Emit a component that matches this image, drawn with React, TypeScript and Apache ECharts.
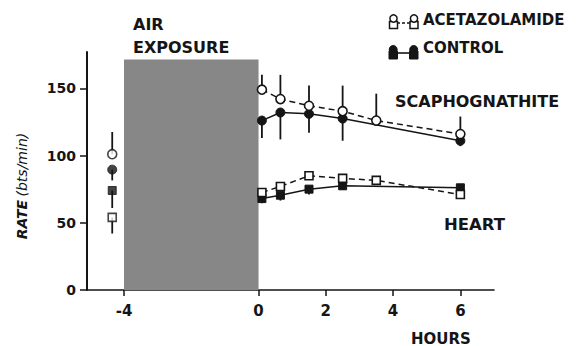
import React, { useEffect, useRef } from "react";
import * as echarts from "echarts";

// ---- data ----
const hoursAcet = [0.1, 0.65, 1.5, 2.5, 3.5, 6];
const hoursCtrl = [0.1, 0.65, 1.5, 2.5, 6];
const preHour = -4.35;

// scaphognathite rate (beats/min)
const scaphAcet = [149, 142, 137, 133, 126, 116];
const scaphAcetUpper = [160, 160, 152, 152, 146, 129];
const scaphCtrl = [126, 132, 131, 127.5, 111];
const scaphCtrlLower = [113, 112, 117, 111, 107];

// heart rate (beats/min)
const heartAcet = [72.5, 77, 85, 83, 81.5, 71];
const heartCtrl = [68, 70.5, 75, 77.5, 76];
const heartCtrlLower = [64.5, 66.5, 71, 74.5, 74];

// pre-exposure values at -4 h
const preScaphAcet = 101;
const preScaphAcetUpper = 117.5;
const preScaphCtrl = 89.5;
const preScaphCtrlLower = 81.5;
const preHeartCtrl = 74;
const preHeartCtrlLower = 61;
const preHeartAcet = 54;
const preHeartAcetLower = 42;

// air exposure period
const exposureStart = -4;
const exposureEnd = 0;
const exposureTop = 171.5;

const xTicks = [-4, 0, 2, 4, 6];
const yTicks = [0, 50, 100, 150];

const INK = "#151515";
const FONT = "DejaVu Sans";

const zip = (xs: number[], ys: number[]) => xs.map((x, i) => [x, ys[i]]);

export default function App() {
  const ref = useRef<HTMLDivElement>(null);
  useEffect(() => {
    if (!ref.current) return;
    const chart = echarts.init(ref.current, null, { renderer: "svg" });

    const errData = [
      ...hoursAcet.map((h, i) => [h, scaphAcet[i], scaphAcetUpper[i]]),
      ...hoursCtrl.map((h, i) => [h, scaphCtrl[i], scaphCtrlLower[i]]),
      ...hoursCtrl.map((h, i) => [h, heartCtrl[i], heartCtrlLower[i]]),
      [preHour, preScaphAcet, preScaphAcetUpper],
      [preHour, preScaphCtrl, preScaphCtrlLower],
      [preHour, preHeartCtrl, preHeartCtrlLower],
      [preHour, preHeartAcet, preHeartAcetLower],
    ];

    const openStyle = { color: "#fff", borderColor: INK, borderWidth: 1.6 };
    const fillStyle = { color: INK, borderColor: INK, borderWidth: 1 };

    const lineSeries = (
      name: string,
      data: number[][],
      symbol: string,
      size: number | number[],
      open: boolean,
      dashed: boolean,
      z: number
    ) => ({
      type: "line",
      name,
      data,
      symbol,
      symbolSize: size,
      showAllSymbol: true,
      smooth: false,
      z,
      lineStyle: { color: INK, width: 1.5, type: dashed ? [6, 4] : "solid" },
      itemStyle: open ? openStyle : fillStyle,
      emphasis: { disabled: true },
    });

    const pointSeries = (data: number[][], symbol: string, size: number | number[], open: boolean, z: number) => ({
      type: "scatter",
      data,
      symbol,
      symbolSize: size,
      z,
      itemStyle: open ? openStyle : fillStyle,
      emphasis: { disabled: true },
    });

    const option: any = {
      animation: false,
      grid: { left: 87, right: 86, top: 52, bottom: 56, containLabel: false },
      xAxis: {
        type: "value",
        min: -5.1,
        max: 7,
        splitLine: { show: false },
        axisLine: { onZero: false, lineStyle: { color: INK, width: 1.6 } },
        axisTick: { show: true, length: 6, lineStyle: { color: INK, width: 1.5 }, customValues: xTicks },
        axisLabel: {
          customValues: xTicks,
          margin: 13,
          color: INK,
          fontFamily: FONT,
          fontWeight: "bold",
          fontSize: 15,
        },
      },
      yAxis: {
        type: "value",
        min: 0,
        max: 177,
        splitLine: { show: false },
        axisLine: { show: true, onZero: false, lineStyle: { color: INK, width: 2 } },
        axisTick: { show: true, length: 7, lineStyle: { color: INK, width: 1.5 }, customValues: yTicks },
        axisLabel: {
          customValues: yTicks,
          margin: 11,
          color: INK,
          fontFamily: FONT,
          fontWeight: "bold",
          fontSize: 14,
        },
      },
      series: [
        {
          type: "custom",
          data: errData,
          z: 2,
          encode: { x: 0, y: [1, 2] },
          renderItem: (params: any, api: any) => {
            const p1 = api.coord([api.value(0), api.value(1)]);
            const p2 = api.coord([api.value(0), api.value(2)]);
            return {
              type: "line",
              shape: { x1: p1[0], y1: p1[1], x2: p2[0], y2: p2[1] },
              style: { stroke: INK, lineWidth: 1.8 },
            };
          },
          markArea: {
            silent: true,
            itemStyle: { color: "#878787" },
            data: [[{ coord: [exposureStart, 0] }, { coord: [exposureEnd, exposureTop] }]],
          },
        },
        lineSeries("Control scaphognathite", zip(hoursCtrl, scaphCtrl), "circle", 9, false, false, 3),
        lineSeries("Acetazolamide scaphognathite", zip(hoursAcet, scaphAcet), "circle", 9, true, true, 4),
        lineSeries("Control heart", zip(hoursCtrl, heartCtrl), "rect", [8, 8], false, false, 3),
        lineSeries("Acetazolamide heart", zip(hoursAcet, heartAcet), "rect", [8, 8], true, true, 4),
        pointSeries([[preHour, preScaphCtrl]], "circle", 9, false, 3),
        pointSeries([[preHour, preHeartCtrl]], "rect", [8, 8], false, 3),
        pointSeries([[preHour, preScaphAcet]], "circle", 9, true, 4),
        pointSeries([[preHour, preHeartAcet]], "rect", [8, 8], true, 4),
      ],
      graphic: [
        {
          type: "text",
          x: 22,
          y: 186,
          rotation: Math.PI / 2,
          style: {
            text: "{b|RATE} {n|(bts/min)}",
            align: "center",
            verticalAlign: "middle",
            rich: {
              b: { fontFamily: FONT, fontWeight: "bold", fontStyle: "italic", fontSize: 14, fill: INK },
              n: { fontFamily: FONT, fontWeight: "normal", fontStyle: "italic", fontSize: 14, fill: INK },
            },
          },
        },
        { type: "text", left: 133, top: 16, style: { text: "AIR", fontFamily: FONT, fontWeight: "bold", fontSize: 16, fill: INK } },
        { type: "text", left: 133, top: 39, style: { text: "EXPOSURE", fontFamily: FONT, fontWeight: "bold", fontSize: 16, fill: INK } },
        { type: "text", left: 395, top: 93, style: { text: "SCAPHOGNATHITE", fontFamily: FONT, fontWeight: "bold", fontSize: 16, fill: INK } },
        { type: "text", left: 444, top: 216, style: { text: "HEART", fontFamily: FONT, fontWeight: "bold", fontSize: 16.5, fill: INK } },
        { type: "text", left: 411, top: 331, style: { text: "HOURS", fontFamily: FONT, fontWeight: "bold", fontSize: 15, fill: INK } },
        // legend: acetazolamide
        { type: "line", shape: { x1: 397, y1: 23, x2: 410, y2: 23 }, style: { stroke: INK, lineWidth: 1.5, lineDash: [3, 2] } },
        { type: "rect", shape: { x: 389.5, y: 21.5, width: 8, height: 7 }, style: { fill: "#fff", stroke: INK, lineWidth: 1.5 } },
        { type: "circle", shape: { cx: 393.5, cy: 18.5, r: 3.6 }, style: { fill: "#fff", stroke: INK, lineWidth: 1.5 } },
        { type: "rect", shape: { x: 410, y: 21.5, width: 8, height: 7 }, style: { fill: "#fff", stroke: INK, lineWidth: 1.5 } },
        { type: "circle", shape: { cx: 414, cy: 18.5, r: 3.6 }, style: { fill: "#fff", stroke: INK, lineWidth: 1.5 } },
        { type: "text", left: 423, top: 12, style: { text: "ACETAZOLAMIDE", fontFamily: FONT, fontWeight: "bold", fontSize: 15, fill: INK } },
        // legend: control
        { type: "line", shape: { x1: 397, y1: 53, x2: 410, y2: 53 }, style: { stroke: INK, lineWidth: 1.6 } },
        { type: "rect", shape: { x: 389, y: 51, width: 8.5, height: 8 }, style: { fill: INK, stroke: INK, lineWidth: 1 } },
        { type: "circle", shape: { cx: 393.2, cy: 49.5, r: 4 }, style: { fill: INK, stroke: INK, lineWidth: 1 } },
        { type: "rect", shape: { x: 409.5, y: 51, width: 8.5, height: 8 }, style: { fill: INK, stroke: INK, lineWidth: 1 } },
        { type: "circle", shape: { cx: 413.7, cy: 49.5, r: 4 }, style: { fill: INK, stroke: INK, lineWidth: 1 } },
        { type: "text", left: 423, top: 40, style: { text: "CONTROL", fontFamily: FONT, fontWeight: "bold", fontSize: 15, fill: INK } },
      ],
    };

    chart.setOption(option);
    return () => chart.dispose();
  }, []);

  return <div ref={ref} style={{ width: 580, height: 346, position: "absolute", left: 0, top: 0, background: "#fff" }} />;
}
